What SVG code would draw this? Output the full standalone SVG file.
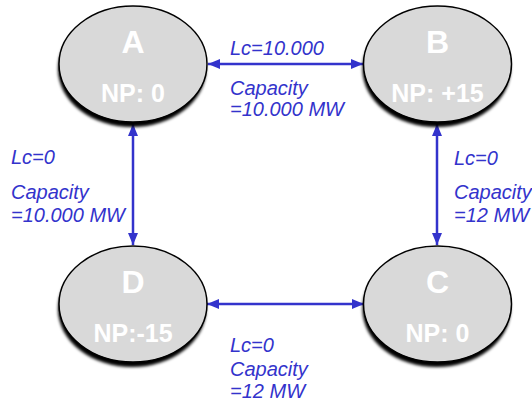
<svg xmlns="http://www.w3.org/2000/svg" width="532" height="407" viewBox="0 0 532 407">
<defs>
<style>
.node{fill:#d9d9d9;stroke:#000;stroke-width:1.5}
.shadow{fill:#000;filter:url(#blur)}
.ttl{font-family:"Liberation Sans",Arial,sans-serif;font-weight:bold;fill:#fff;font-size:32px;text-anchor:middle}
.np{font-family:"Liberation Sans",Arial,sans-serif;font-weight:bold;fill:#fff;font-size:25px;text-anchor:middle}
.lbl{font-family:"Liberation Sans",Arial,sans-serif;font-style:italic;fill:#3333cc;font-size:20px}
.edge{stroke:#3333cc;stroke-width:2.5;fill:none;marker-start:url(#ah);marker-end:url(#ah)}
</style>
<filter id="blur" x="-20%" y="-20%" width="140%" height="140%"><feGaussianBlur stdDeviation="1.5"/></filter>
<marker id="ah" viewBox="0 0 12 10" refX="12" refY="5" markerWidth="12" markerHeight="10" markerUnits="userSpaceOnUse" orient="auto-start-reverse">
<path d="M0,0 L12,5 L0,10 Z" fill="#3333cc"/>
</marker>
</defs>
<rect width="532" height="407" fill="#fff"/>
<g id="connectors">
<line class="edge" x1="208" y1="64" x2="363" y2="64"/>
<line class="edge" x1="133" y1="124" x2="133" y2="245"/>
<line class="edge" x1="437" y1="124" x2="437" y2="245"/>
<line class="edge" x1="207" y1="304" x2="364" y2="304"/>
</g>
<g id="node-A">
<ellipse class="shadow" cx="132" cy="69" rx="74" ry="58"/>
<ellipse class="node" cx="133" cy="64" rx="74" ry="58"/>
<text class="ttl" x="133" y="53">A</text>
<text class="np" x="133" y="102">NP: 0</text>
</g>
<g id="node-B">
<ellipse class="shadow" cx="436.5" cy="69" rx="74" ry="58"/>
<ellipse class="node" cx="437.5" cy="64" rx="74" ry="58"/>
<text class="ttl" x="437.5" y="53">B</text>
<text class="np" x="437.5" y="102">NP: +15</text>
</g>
<g id="node-D">
<ellipse class="shadow" cx="132" cy="309" rx="74" ry="58"/>
<ellipse class="node" cx="133" cy="304" rx="74" ry="58"/>
<text class="ttl" x="133" y="293">D</text>
<text class="np" x="133" y="342">NP:-15</text>
</g>
<g id="node-C">
<ellipse class="shadow" cx="436.5" cy="309" rx="74" ry="58"/>
<ellipse class="node" cx="437.5" cy="304" rx="74" ry="58"/>
<text class="ttl" x="437.5" y="293">C</text>
<text class="np" x="437.5" y="342">NP: 0</text>
</g>
<g id="labels">
<text class="lbl" x="230" y="55">Lc=10.000</text>
<text class="lbl" x="230" y="95">Capacity</text>
<text class="lbl" x="230" y="116">=10.000 MW</text>
<text class="lbl" x="11" y="164">Lc=0</text>
<text class="lbl" x="11" y="199">Capacity</text>
<text class="lbl" x="11" y="222">=10.000 MW</text>
<text class="lbl" x="454" y="165">Lc=0</text>
<text class="lbl" x="454" y="199">Capacity</text>
<text class="lbl" x="454" y="222">=12 MW</text>
<text class="lbl" x="230" y="352">Lc=0</text>
<text class="lbl" x="230" y="376">Capacity</text>
<text class="lbl" x="230" y="398">=12 MW</text>
</g>
</svg>
